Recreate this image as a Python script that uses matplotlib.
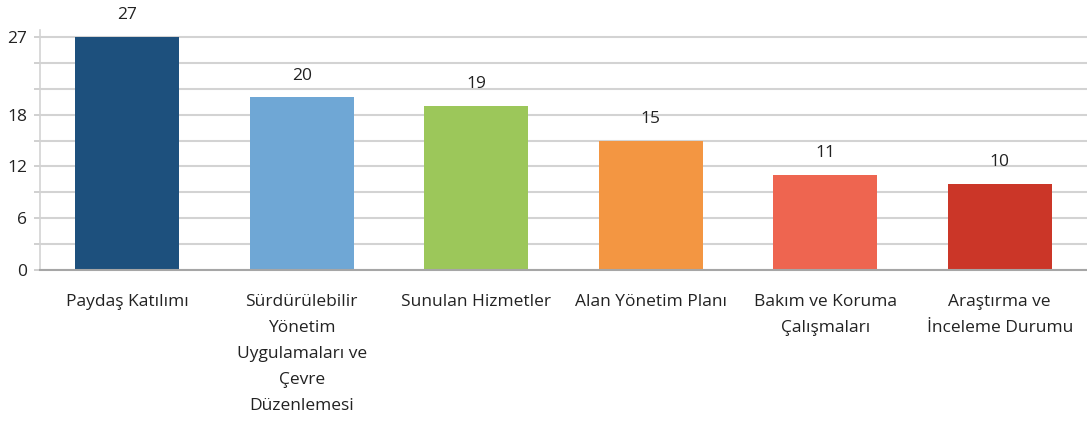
import matplotlib
matplotlib.use("Agg")
import matplotlib.pyplot as plt

categories = ["Paydaş Katılımı",
              "Sürdürülebilir\nYönetim\nUygulamaları ve\nÇevre\nDüzenlemesi",
              "Sunulan Hizmetler",
              "Alan Yönetim Planı",
              "Bakım ve Koruma\nÇalışmaları",
              "Araştırma ve\nİnceleme Durumu"]
values = [27, 20, 19, 15, 11, 10]
colors = ["#1D507D", "#6FA7D5", "#9CC75A", "#F39642", "#EE6550", "#CB3628"]
grid_ticks = [0, 3, 6, 9, 12, 15, 18, 21, 24, 27]
label_ticks = [0, 6, 12, 18, 27]

plt.rcParams['font.family'] = ['Open Sans', 'DejaVu Sans']

fig = plt.figure(figsize=(10.87, 4.24), dpi=100)
ax = fig.add_axes([40/1087, 1 - 270/424, 1047/1087, (270 - 30)/424])

x = list(range(len(categories)))
bars = ax.bar(x, values, width=0.595, color=colors, zorder=3)

for xi, v in zip(x, values):
    ax.text(xi, v + 1.6, str(v), ha='center', va='bottom', fontsize=12.5, color='#222222')

ax.set_xlim(-0.5, len(categories) - 0.5)
ax.set_ylim(0, 27.8)

ax.set_yticks(grid_ticks)
ax.set_yticklabels([str(t) if t in label_ticks else "" for t in grid_ticks])
ax.yaxis.grid(True, color='#D3D3D3', linewidth=1.5, zorder=0)
ax.tick_params(axis='y', length=4, width=1.2, color='#C8C8C8', labelsize=12.5,
               labelcolor='#222222', pad=5)

ax.set_xticks(x)
ax.set_xticklabels(categories, fontsize=12.5, color='#222222', linespacing=1.85)
ax.tick_params(axis='x', length=0, pad=17)

for side in ['top', 'right']:
    ax.spines[side].set_visible(False)
ax.spines['left'].set_color('#D3D3D3')
ax.spines['left'].set_linewidth(1.2)
ax.spines['bottom'].set_color('#A6A6A6')
ax.spines['bottom'].set_linewidth(1.5)
ax.spines['bottom'].set_zorder(4)

fig.savefig("out.png", dpi=100)
